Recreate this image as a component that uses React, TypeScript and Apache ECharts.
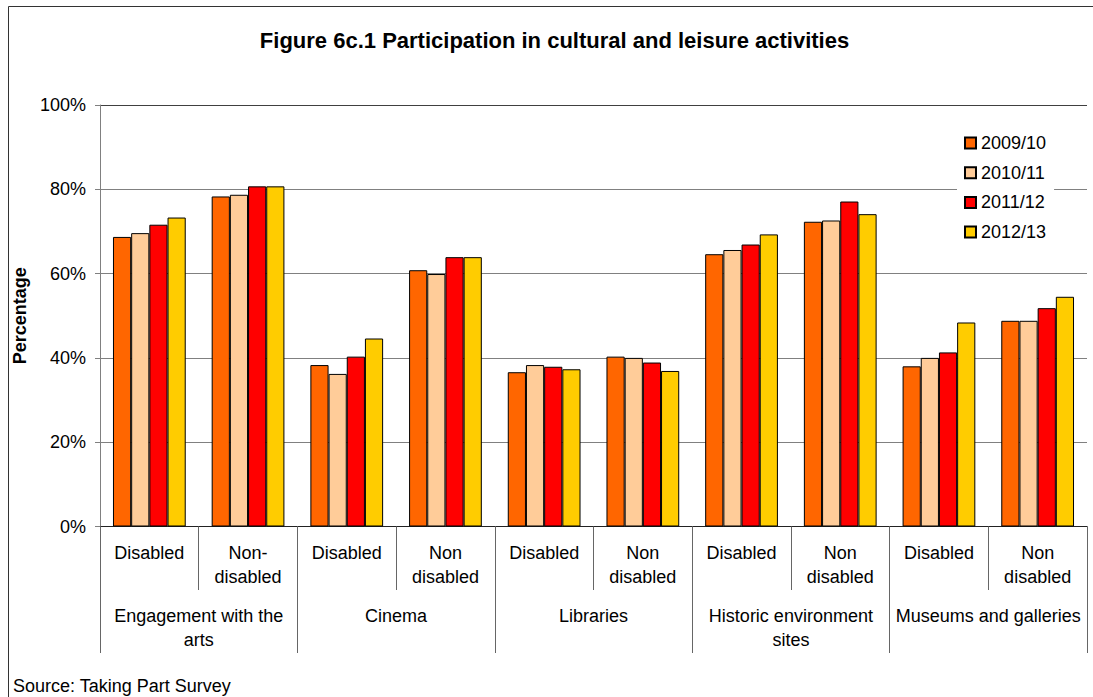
import React, { useEffect, useRef } from "react";
import * as echarts from "echarts";

const subCategories = [
  "Disabled", "Non-\ndisabled",
  "Disabled", "Non\ndisabled",
  "Disabled", "Non\ndisabled",
  "Disabled", "Non\ndisabled",
  "Disabled", "Non\ndisabled",
];
const groups = [
  "Engagement with the\narts",
  "Cinema",
  "Libraries",
  "Historic environment\nsites",
  "Museums and galleries",
];
const seriesNames = ["2009/10", "2010/11", "2011/12", "2012/13"];
const v2009 = [68.7, 78.3, 38.3, 60.8, 36.6, 40.3, 64.6, 72.3, 38.0, 48.8];
const v2010 = [69.6, 78.7, 36.2, 59.9, 38.3, 40.0, 65.6, 72.6, 40.0, 48.8];
const v2011 = [71.6, 80.7, 40.3, 63.9, 37.9, 38.9, 66.9, 77.1, 41.3, 51.8];
const v2012 = [73.3, 80.7, 44.6, 63.9, 37.3, 36.9, 69.3, 74.1, 48.4, 54.5];
const colors = ["#FF6600", "#FFCC99", "#FF0000", "#FFCC00"];
const yTicks = [0, 20, 40, 60, 80, 100];

const FONT = "Liberation Sans, Arial, sans-serif";

export default function App() {
  const ref = useRef<HTMLDivElement>(null);
  useEffect(() => {
    if (!ref.current) return;
    const chart = echarts.init(ref.current, undefined, { renderer: "svg" });
    const data = [v2009, v2010, v2011, v2012];
    chart.setOption({
      animation: false,
      backgroundColor: "#ffffff",
      textStyle: { fontFamily: FONT },
      title: {
        text: "Figure 6c.1 Participation in cultural and leisure activities",
        left: 554.5,
        textAlign: "center",
        top: 29.5,
        padding: 0,
        textStyle: { fontFamily: FONT, fontSize: 22, fontWeight: "bold", color: "#000", lineHeight: 22 },
      },
      legend: {
        orient: "vertical",
        left: 957,
        top: 126,
        padding: [8, 8, 8, 7],
        backgroundColor: "#ffffff",
        itemWidth: 11,
        itemHeight: 11,
        itemGap: 11.7,
        icon: "rect",
        data: seriesNames,
        textStyle: { fontFamily: FONT, fontSize: 18, color: "#000", lineHeight: 18 },
      },
      grid: { left: 100, right: 6, top: 105, bottom: 170.5, containLabel: false },
      xAxis: [
        {
          type: "category",
          position: "bottom",
          data: subCategories,
          axisLine: { show: true, lineStyle: { color: "#222", width: 1 } },
          axisTick: { show: true, interval: 0, length: 63.5, lineStyle: { color: "#666" } },
          axisLabel: {
            interval: 0,
            margin: 14.5,
            fontFamily: FONT,
            fontSize: 18,
            lineHeight: 24,
            color: "#000",
          },
        },
        {
          type: "category",
          position: "bottom",
          data: groups,
          axisLine: { show: false },
          axisTick: { show: true, interval: 0, length: 126.5, lineStyle: { color: "#666" } },
          axisLabel: {
            interval: 0,
            margin: 77,
            fontFamily: FONT,
            fontSize: 18,
            lineHeight: 24,
            color: "#000",
          },
        },
      ],
      yAxis: {
        type: "value",
        min: 0,
        max: 100,
        interval: 20,
        name: "Percentage",
        nameLocation: "middle",
        nameGap: 69,
        nameTextStyle: { fontFamily: FONT, fontSize: 18, fontWeight: "bold", color: "#000" },
        axisLine: { show: true, lineStyle: { color: "#808080" } },
        axisTick: { show: true, length: 5, lineStyle: { color: "#808080" } },
        axisLabel: {
          margin: 14,
          fontFamily: FONT,
          fontSize: 18,
          color: "#000",
          formatter: (v: number) => (yTicks.includes(v) ? v + "%" : ""),
        },
        splitLine: {
          show: true,
          lineStyle: { color: ["#808080", "#808080", "#808080", "#808080", "#808080", "#404040"], width: 1 },
        },
      },
      series: seriesNames.map((name, i) => ({
        name,
        type: "bar",
        xAxisIndex: 0,
        data: data[i],
        barGap: "0%",
        barCategoryGap: "26.3%",
        itemStyle: { color: colors[i], borderColor: "#000", borderWidth: 1 },
      })),
      graphic: [
        {
          type: "polyline",
          shape: { points: [[8.5, 720], [8.5, 6.5], [1200, 6.5]] },
          style: { fill: "none", stroke: "#333", lineWidth: 1 },
          silent: true,
          z: 100,
        },
        {
          type: "text",
          x: 13,
          y: 685.5,
          style: {
            text: "Source: Taking Part Survey",
            font: "18px " + FONT,
            fill: "#000",
            textAlign: "left",
            textVerticalAlign: "middle",
          },
        },
      ],
    });
    return () => chart.dispose();
  }, []);
  return (
    <div
      ref={ref}
      style={{ position: "absolute", left: 0, top: 0, width: 1093, height: 697 }}
    />
  );
}
